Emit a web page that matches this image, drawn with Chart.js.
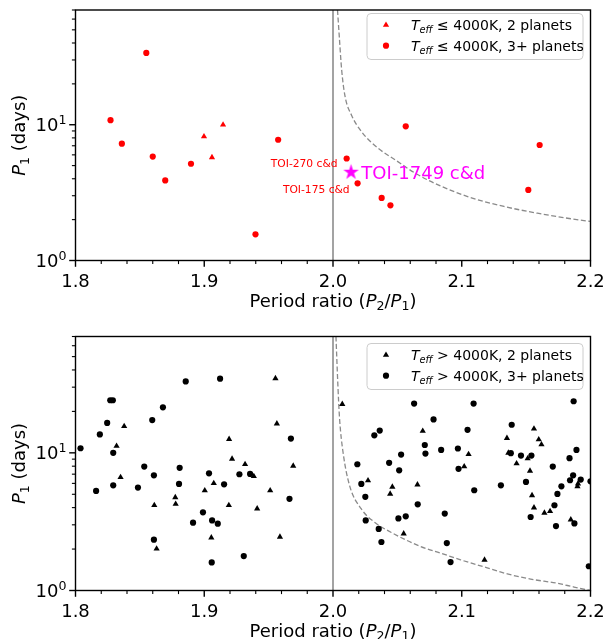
<!DOCTYPE html>
<html>
<head>
<meta charset="utf-8">
<script src="https://cdn.jsdelivr.net/npm/chart.js@4.4.1/dist/chart.umd.min.js"></script>
<style>
  body { margin: 0; background: #fff; }
  #wrap { position: relative; width: 606px; height: 639px; }
  #wrap canvas { position: absolute; left: 0; }
</style>
</head>
<body>
<div id="wrap">
  <canvas id="topPanel" width="606" height="320" style="top:0"></canvas>
  <canvas id="bottomPanel" width="606" height="319" style="top:320px"></canvas>
</div>
<script>
// ---- top panel: Teff <= 4000K ----
const coolTwoX = [1.8998, 1.9146, 1.9060];
const coolTwoY = [8.19, 10.0, 5.74];
const coolMultiX = [1.8272, 1.8360, 1.8550, 1.8600, 1.8697, 1.8897, 1.9398, 1.9574,
                    2.0106, 2.0191, 2.0378, 2.0446, 2.0565, 2.1517, 2.1605];
const coolMultiY = [10.8, 7.25, 33.8, 5.83, 3.89, 5.16, 1.56, 7.75,
                    5.64, 3.70, 2.89, 2.55, 9.73, 3.31, 7.09];
const toiX = [2.0140];
const toiY = [4.47];

// ---- bottom panel: Teff > 4000K ----
const hotTwoX = [1.8319, 1.8350, 1.8378, 1.8612, 1.8630, 1.8775, 1.8778, 1.9004, 1.9055, 1.9074,
                 1.9191, 1.9193, 1.9216, 1.9317, 1.9385, 1.9411, 1.9512, 1.9553, 1.9564, 1.9588,
                 1.9691, 2.0072, 2.0272, 2.0444, 2.0461, 2.0549, 2.0656, 2.0697, 2.1019, 2.1053,
                 2.1177, 2.1351, 2.1362, 2.1426, 2.1512, 2.1530, 2.1546, 2.1561, 2.1561, 2.1598,
                 2.1619, 2.1642, 2.1686, 2.1847, 2.1899, 2.1903];
const hotTwoY = [11.2, 6.64, 15.6, 4.16, 2.01, 4.75, 4.25, 5.32, 2.42, 6.01,
                 4.16, 12.56, 9.04, 8.26, 6.76, 3.93, 5.32, 34.7, 16.3, 2.45,
                 8.04, 22.6, 6.29, 5.03, 5.66, 2.59, 5.88, 14.4, 7.95, 9.77,
                 1.67, 12.8, 10.0, 8.36, 9.09, 7.39, 4.91, 14.95, 4.0, 12.5,
                 11.5, 3.66, 3.76, 3.27, 5.71, 5.98];
const hotMultiX = [1.8039, 1.8160, 1.8189, 1.8246, 1.8270, 1.8290, 1.8293, 1.8293, 1.8485, 1.8534,
                   1.8596, 1.8609, 1.8609, 1.8679, 1.8804, 1.8809, 1.8856, 1.8913, 1.8990, 1.9037,
                   1.9058, 1.9061, 1.9105, 1.9123, 1.9154, 1.9273, 1.9307, 1.9356, 1.9662, 1.9673,
                   2.0189, 2.0220, 2.0251, 2.0254, 2.0321, 2.0355, 2.0363, 2.0376, 2.0436, 2.0508,
                   2.0514, 2.0529, 2.0565, 2.0630, 2.0658, 2.0713, 2.0718, 2.0781, 2.0840, 2.0868,
                   2.0884, 2.0913, 2.0970, 2.0975, 2.1045, 2.1092, 2.1097, 2.1304, 2.1381, 2.1388,
                   2.1460, 2.1499, 2.1535, 2.1541, 2.1707, 2.1720, 2.1732, 2.1743, 2.1774, 2.1837,
                   2.1841, 2.1865, 2.1869, 2.1875, 2.1891, 2.1924, 2.1987, 2.2000, 2.2015];
const hotMultiY = [10.8, 5.29, 13.6, 16.5, 24.1, 24.1, 10.0, 5.81, 5.59, 7.95,
                   17.3, 6.87, 2.34, 21.4, 5.95, 7.78, 33.0, 3.11, 3.70, 7.10,
                   1.60, 3.23, 3.06, 34.6, 5.91, 6.99, 1.78, 7.03, 4.63, 12.7,
                   8.26, 5.95, 4.79, 3.23, 13.4, 2.80, 14.5, 2.25, 8.46, 3.34,
                   7.47, 9.72, 3.46, 22.8, 4.23, 11.4, 9.88, 17.5, 10.5, 3.62,
                   2.21, 1.61, 10.75, 7.65, 14.7, 22.8, 5.35, 5.81, 9.94, 16.0,
                   9.55, 6.15, 3.42, 9.55, 7.95, 4.16, 2.94, 5.03, 5.71, 9.14,
                   6.32, 6.87, 23.7, 3.07, 10.5, 6.39, 1.50, 6.21, 11.2];

// ---- dashed limit curves ----
const limTopX = [2.0035, 2.0049, 2.0067, 2.0093, 2.0145, 2.0223, 2.0352, 2.0482, 2.0638,
                 2.0835, 2.1068, 2.1328, 2.1588, 2.1847, 2.2000];
const limTopY = [70, 44.4, 25.5, 16.3, 11.7, 8.85, 6.70, 5.52, 4.40,
                 3.54, 2.91, 2.50, 2.23, 2.03, 1.94];
const limBotX = [2.0023, 2.0038, 2.0051, 2.0078, 2.0129, 2.0220, 2.0323, 2.0453, 2.0679,
                 2.0835, 2.0991, 2.1198, 2.1354, 2.1535, 2.1739, 2.1872, 2.2000];
const limBotY = [70, 30.9, 17.7, 10.1, 5.78, 3.91, 3.13, 2.64, 2.09,
                 1.87, 1.67, 1.46, 1.32, 1.21, 1.13, 1.06, 1.00];

// ---- axes ----
const xRange = [1.8, 2.2];
const yRange = [1, 70];
const xMajorTicks = [1.8, 1.9, 2.0, 2.1, 2.2];
const xTickLabels = ['1.8', '1.9', '2.0', '2.1', '2.2'];
const yDecades = [1, 10];
const yTickExp = ['0', '1'];
const resonance = 2.0;

const FONT = '"DejaVu Sans", sans-serif';

function pts(xs, ys) {
  return xs.map((x, i) => ({ x: x, y: ys[i] }));
}

// draw a row of text pieces with their own size / italic / vertical shift
function runs(ctx, parts, x, y, align, color) {
  let w = 0;
  parts.forEach(p => {
    ctx.font = (p.i ? 'italic ' : '') + p.s + 'px ' + FONT;
    p.w = ctx.measureText(p.t).width;
    w += p.w;
  });
  let cx = align === 'center' ? x - w / 2 : align === 'right' ? x - w : x;
  ctx.fillStyle = color;
  ctx.textAlign = 'left';
  ctx.textBaseline = 'alphabetic';
  parts.forEach(p => {
    ctx.font = (p.i ? 'italic ' : '') + p.s + 'px ' + FONT;
    ctx.fillText(p.t, cx, y + (p.dy || 0));
    cx += p.w;
  });
}

function makeStar(R, color) {
  const c = document.createElement('canvas');
  const size = Math.ceil(2 * R + 2);
  c.width = size; c.height = size;
  const g = c.getContext('2d');
  g.beginPath();
  for (let k = 0; k < 10; k++) {
    const r = k % 2 ? R * 0.382 : R;
    const a = -Math.PI / 2 + k * Math.PI / 5;
    const px = size / 2 + r * Math.cos(a), py = size / 2 + r * Math.sin(a);
    k ? g.lineTo(px, py) : g.moveTo(px, py);
  }
  g.closePath();
  g.fillStyle = color;
  g.fill();
  return c;
}

function legendMarker(ctx, kind, x, y, color) {
  ctx.fillStyle = color;
  ctx.beginPath();
  if (kind === 'triangle') {
    const r = 3.6;
    for (let k = 0; k < 3; k++) {
      const a = k * 2 * Math.PI / 3;
      const px = x + Math.sin(a) * r, py = y - Math.cos(a) * r;
      k ? ctx.lineTo(px, py) : ctx.moveTo(px, py);
    }
    ctx.closePath();
  } else {
    ctx.arc(x, y, 3.1, 0, Math.PI * 2);
  }
  ctx.fill();
}

function roundRect(ctx, x, y, w, h, r) {
  ctx.beginPath();
  ctx.moveTo(x + r, y);
  ctx.arcTo(x + w, y, x + w, y + h, r);
  ctx.arcTo(x + w, y + h, x, y + h, r);
  ctx.arcTo(x, y + h, x, y, r);
  ctx.arcTo(x, y, x + w, y, r);
  ctx.closePath();
}

// matplotlib-like frame, ticks, labels, legend and annotations
function mplAxes(cfg) {
  return {
    id: 'mplAxes',
    afterDraw(chart) {
      const ctx = chart.ctx;
      const a = chart.chartArea;
      const xs = chart.scales.x, ys = chart.scales.y;
      ctx.save();

      // annotations
      (cfg.notes || []).forEach(n => {
        ctx.font = n.size + 'px ' + FONT;
        ctx.fillStyle = n.color;
        ctx.textAlign = 'left';
        ctx.textBaseline = 'alphabetic';
        ctx.fillText(n.text, xs.getPixelForValue(n.x), ys.getPixelForValue(n.y) + n.size * 0.36);
      });

      // frame
      ctx.strokeStyle = '#000';
      ctx.lineWidth = 1.4;
      ctx.strokeRect(a.left, a.top, a.right - a.left, a.bottom - a.top);

      // x ticks
      for (let i = 0; i <= 20; i++) {
        const v = xRange[0] + i * 0.02;
        const px = xs.getPixelForValue(v);
        const major = i % 5 === 0;
        ctx.lineWidth = major ? 1.4 : 1.1;
        ctx.beginPath();
        ctx.moveTo(px, a.bottom);
        ctx.lineTo(px, a.bottom + (major ? 6.3 : 3.6));
        ctx.stroke();
      }
      ctx.fillStyle = '#000';
      ctx.font = '18px ' + FONT;
      ctx.textAlign = 'center';
      ctx.textBaseline = 'alphabetic';
      xMajorTicks.forEach((v, i) => {
        ctx.fillText(xTickLabels[i], xs.getPixelForValue(v), a.bottom + 26);
      });

      // y ticks (log)
      yDecades.forEach((d, di) => {
        for (let k = 1; k <= 9; k++) {
          const v = k * d;
          if (v > yRange[1]) break;
          const py = ys.getPixelForValue(v);
          ctx.lineWidth = k === 1 ? 1.4 : 1.1;
          ctx.beginPath();
          ctx.moveTo(a.left - (k === 1 ? 6.3 : 3.6), py);
          ctx.lineTo(a.left, py);
          ctx.stroke();
        }
        const py = ys.getPixelForValue(d);
        runs(ctx, [{ t: '10', s: 18 }, { t: yTickExp[di], s: 12.6, dy: -7.5 }],
             a.left - 9, py + 6.5, 'right', '#000');
      });

      // axis titles
      runs(ctx, [{ t: 'Period ratio (', s: 18 }, { t: 'P', s: 18, i: true },
                 { t: '2', s: 12.6, dy: 3.5 }, { t: '/', s: 18 }, { t: 'P', s: 18, i: true },
                 { t: '1', s: 12.6, dy: 3.5 }, { t: ')', s: 18 }],
           (a.left + a.right) / 2, a.bottom + 46, 'center', '#000');
      ctx.save();
      ctx.translate(25, (a.top + a.bottom) / 2);
      ctx.rotate(-Math.PI / 2);
      runs(ctx, [{ t: 'P', s: 18, i: true }, { t: '1', s: 12.6, dy: 3.5 }, { t: ' (days)', s: 18 }],
           0, 0, 'center', '#000');
      ctx.restore();

      // legend
      const L = cfg.legend;
      roundRect(ctx, L.x, L.y, L.w, L.h, 4);
      ctx.fillStyle = 'rgba(255,255,255,0.8)';
      ctx.fill();
      ctx.strokeStyle = '#cccccc';
      ctx.lineWidth = 1;
      ctx.stroke();
      L.rows.forEach(row => {
        legendMarker(ctx, row.marker, L.x + 19, row.y, cfg.color);
        runs(ctx, [{ t: 'T', s: 14, i: true }, { t: 'eff', s: 9.8, i: true, dy: 3 },
                   { t: ' ' + cfg.rel + ' 4000K, ' + row.label, s: 14 }],
             L.x + 44, row.y + 5, 'left', '#000');
      });
      ctx.restore();
    }
  };
}

function panel(id, datasets, pad, cfg) {
  return new Chart(document.getElementById(id), {
    type: 'scatter',
    data: { datasets: datasets },
    options: {
      responsive: false,
      animation: false,
      devicePixelRatio: 1,
      events: [],
      layout: { padding: pad },
      plugins: { legend: { display: false }, tooltip: { enabled: false } },
      scales: {
        x: { type: 'linear', min: xRange[0], max: xRange[1], display: false },
        y: { type: 'logarithmic', min: yRange[0], max: yRange[1], display: false }
      }
    },
    plugins: [mplAxes(cfg)]
  });
}

function markers(xs, ys, style, color, r) {
  return { data: pts(xs, ys), pointStyle: style, pointRadius: r, backgroundColor: color,
           borderWidth: 0, showLine: false };
}
function curve(xs, ys) {
  return { data: pts(xs, ys), showLine: true, borderColor: '#8a8a8a', borderWidth: 1.3,
           borderDash: [5, 2.5], pointRadius: 0, cubicInterpolationMode: 'monotone' };
}
function divider() {
  return { data: pts([resonance, resonance], yRange), showLine: true, borderColor: '#a3a3a3',
           borderWidth: 2, pointRadius: 0 };
}

const star = makeStar(8.2, '#ff00ff');

panel('topPanel', [
  { data: pts(toiX, toiY), pointStyle: star, pointRadius: 9, showLine: false },
  markers(coolTwoX, coolTwoY, 'triangle', '#ff0000', 3.6),
  markers(coolMultiX, coolMultiY, 'circle', '#ff0000', 3.1),
  curve(limTopX, limTopY),
  divider()
], { left: 75.5, right: 15.5, top: 6.5, bottom: 59.5 }, {
  color: '#ff0000',
  rel: '\u2264',
  legend: { x: 367, y: 13.5, w: 216, h: 46,
            rows: [{ marker: 'triangle', y: 25, label: '2 planets' },
                   { marker: 'circle', y: 45.7, label: '3+ planets' }] },
  notes: [
    { text: 'TOI-1749 c&d', x: 2.0220, y: 4.47, size: 18, color: '#ff00ff' },
    { text: 'TOI-270 c&d', x: 1.9517, y: 5.25, size: 10.7, color: '#ff0000' },
    { text: 'TOI-175 c&d', x: 1.9611, y: 3.38, size: 10.7, color: '#ff0000' }
  ]
});

panel('bottomPanel', [
  markers(hotTwoX, hotTwoY, 'triangle', '#000000', 3.6),
  markers(hotMultiX, hotMultiY, 'circle', '#000000', 3.1),
  curve(limBotX, limBotY),
  divider()
], { left: 75.5, right: 15.5, top: 16.5, bottom: 48.5 }, {
  color: '#000000',
  rel: '>',
  legend: { x: 367, y: 23.5, w: 216, h: 46,
            rows: [{ marker: 'triangle', y: 35, label: '2 planets' },
                   { marker: 'circle', y: 55.7, label: '3+ planets' }] }
});
</script>
</body>
</html>
